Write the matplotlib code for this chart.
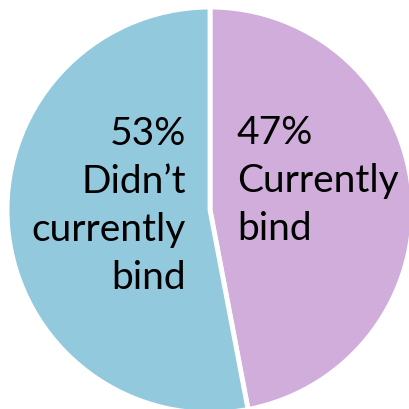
import matplotlib.pyplot as plt

# Share of respondents who currently bind
labels = ["Currently\nbind", "Didn\u2019t\ncurrently\nbind"]
shares = [47, 53]
colors = ["#D0ADDB", "#92C9DD"]

fig = plt.figure(figsize=(4.09, 4.09), dpi=100)
ax = fig.add_axes([0, 0, 1, 1])

wedges, _ = ax.pie(shares, colors=colors, startangle=90, counterclock=False,
                   radius=1.01, wedgeprops=dict(edgecolor="white", linewidth=3.5))

ax.set_xlim(-1.045, 0.990)
ax.set_ylim(-0.990, 1.045)
ax.set_aspect("equal")
ax.axis("off")

font = dict(family="Lato", fontsize=28, color="black", linespacing=1.42)
ax.text(0.134, 0.145, f"{shares[0]}%\n{labels[0]}", ha="left", va="center",
        multialignment="left", **font)
ax.text(-0.119, 0.02, f"{shares[1]}%\n{labels[1]}",
        ha="right", va="center", multialignment="right", **font)

fig.savefig("out.png", dpi=100)
